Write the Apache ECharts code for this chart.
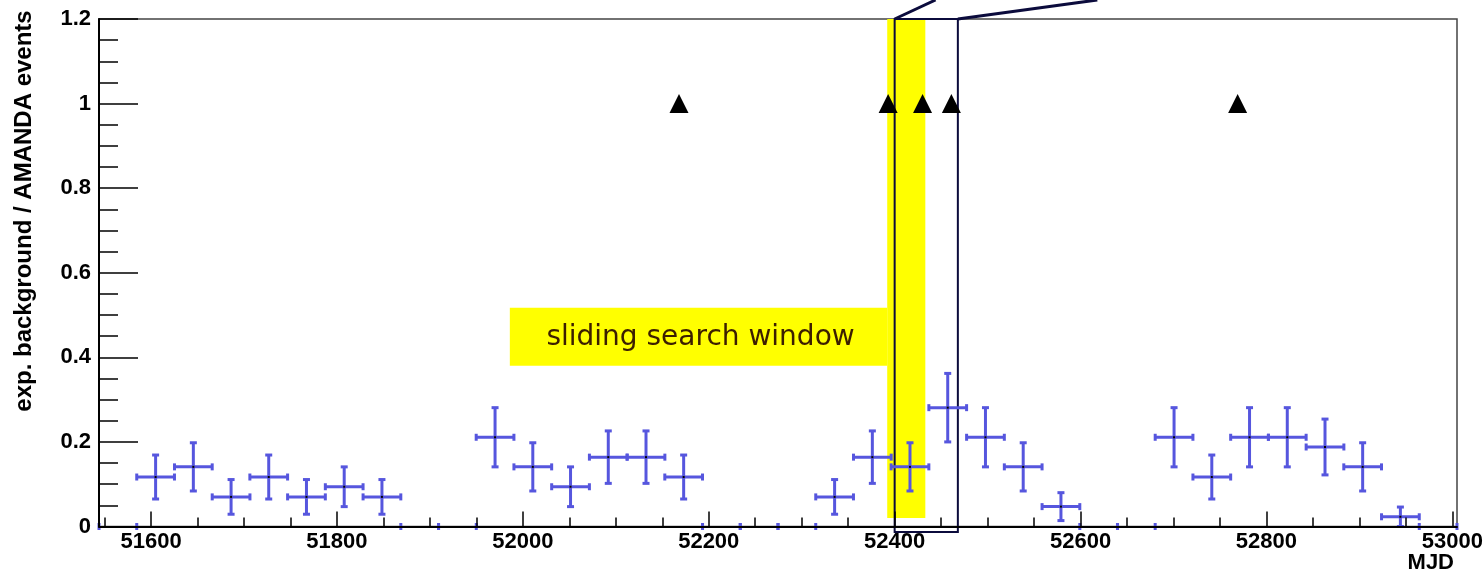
<!DOCTYPE html>
<html><head><meta charset="utf-8">
<script src="https://cdn.jsdelivr.net/npm/echarts@6/dist/echarts.min.js"></script>
<style>html,body{margin:0;padding:0;background:#fff}#c{width:1484px;height:573px}</style>
</head><body><div id="c"></div>
<script>
// ---- data ----
const binCenters = [51564.3, 51604.9, 51645.5, 51686.1, 51726.6, 51767.2, 51807.8, 51848.4, 51889.0, 51929.6,
  51970.1, 52010.7, 52051.3, 52091.9, 52132.5, 52173.0, 52213.6, 52254.2, 52294.8, 52335.4,
  52376.0, 52416.5, 52457.1, 52497.7, 52538.3, 52578.9, 52619.5, 52660.0, 52700.6, 52741.2,
  52781.8, 52822.4, 52863.0, 52903.5, 52944.1, 52984.7];
const binHalfWidth = 20.29;
const expBackground = [0, 0.117, 0.141, 0.070, 0.117, 0.070, 0.094, 0.070, 0, 0,
  0.211, 0.141, 0.094, 0.164, 0.164, 0.117, 0, 0, 0, 0.070,
  0.164, 0.141, 0.281, 0.211, 0.141, 0.047, 0, 0, 0.211, 0.117,
  0.211, 0.211, 0.188, 0.141, 0.023, 0];
const expError = [0, 0.052, 0.057, 0.041, 0.052, 0.041, 0.047, 0.041, 0, 0,
  0.070, 0.057, 0.047, 0.062, 0.062, 0.052, 0, 0, 0, 0.041,
  0.062, 0.057, 0.081, 0.070, 0.057, 0.033, 0, 0, 0.070, 0.052,
  0.070, 0.070, 0.066, 0.057, 0.023, 0];
const amandaEventMJD = [52168, 52393, 52430, 52461, 52769];
const amandaEventLevel = [1, 1, 1, 1, 1];
const xMajorTicks = [51600, 51800, 52000, 52200, 52400, 52600, 52800, 53000];
const xMinorTicks = [51550, 51600, 51650, 51700, 51750, 51800, 51850, 51900, 51950, 52000,
  52050, 52100, 52150, 52200, 52250, 52300, 52350, 52400, 52450, 52500,
  52550, 52600, 52650, 52700, 52750, 52800, 52850, 52900, 52950, 53000];
const xRange = [51544, 53005];
const yRange = [0, 1.2];
const bandMJD = [52392, 52433];
const bandLevel = [0.02, 1.2];
const labelMJD = [51986, 52392];
const labelLevel = [0.380, 0.517];
const labelText = 'sliding search window';
const windowMJD = [52400, 52468];
const windowLevel = [-0.013, 1.2];
const calloutEnds = [[52444, 1.245], [52618, 1.245]];

// ---- chart ----
const barColor = '#5656de';
const navy = '#0b0b3c';
const chart = echarts.init(document.getElementById('c'), null, {renderer: 'canvas'});
const labelFont = {fontFamily: '"Liberation Sans", Arial, sans-serif', fontWeight: 'bold', fontSize: 22, color: '#000'};

function errorBarItem(params, api) {
  const x = api.value(0), y = api.value(1), e = api.value(2);
  const pL = api.coord([x - binHalfWidth, y]);
  const pR = api.coord([x + binHalfWidth, y]);
  const st = {stroke: barColor, lineWidth: 3};
  const cst = {stroke: barColor, lineWidth: 3};
  const cap = 3.5;
  const ch = [
    {type: 'line', shape: {x1: pL[0], y1: pL[1] - cap, x2: pL[0], y2: pL[1] + cap}, style: cst},
    {type: 'line', shape: {x1: pR[0], y1: pR[1] - cap, x2: pR[0], y2: pR[1] + cap}, style: cst}
  ];
  if (e > 0) {
    const pT = api.coord([x, y + e]);
    const pB = api.coord([x, y - e]);
    const pC = api.coord([x, y]);
    ch.push({type: 'line', shape: {x1: pL[0], y1: pL[1], x2: pR[0], y2: pR[1]}, style: st});
    ch.push({type: 'line', shape: {x1: pT[0], y1: pT[1], x2: pB[0], y2: pB[1]}, style: st});
    ch.push({type: 'line', shape: {x1: pT[0] - cap, y1: pT[1], x2: pT[0] + cap, y2: pT[1]}, style: cst});
    ch.push({type: 'line', shape: {x1: pB[0] - cap, y1: pB[1], x2: pB[0] + cap, y2: pB[1]}, style: cst});
    ch.push({type: 'rect', shape: {x: pC[0] - 1, y: pC[1] - 1, width: 2, height: 2}, style: {fill: '#000'}});
  }
  return {type: 'group', children: ch};
}

function annotationItem(params, api) {
  const b0 = api.coord([bandMJD[0], bandLevel[1]]);
  const b1 = api.coord([bandMJD[1], bandLevel[0]]);
  const l0 = api.coord([labelMJD[0], labelLevel[1]]);
  const l1 = api.coord([labelMJD[1], labelLevel[0]]);
  const w0 = api.coord([windowMJD[0], windowLevel[1]]);
  const w1 = api.coord([windowMJD[1], windowLevel[0]]);
  const c0 = api.coord(calloutEnds[0]);
  const c1 = api.coord(calloutEnds[1]);
  return {type: 'group', children: [
    {type: 'rect', shape: {x: b0[0], y: b0[1], width: b1[0] - b0[0], height: b1[1] - b0[1]}, style: {fill: '#ffff00'}},
    {type: 'rect', shape: {x: l0[0], y: l0[1], width: l1[0] - l0[0], height: l1[1] - l0[1]}, style: {fill: '#ffff00'}},
    {type: 'text', style: {text: labelText, x: (l0[0] + l1[0]) / 2 + 2, y: (l0[1] + l1[1]) / 2 + 1, align: 'center', verticalAlign: 'middle',
      font: '28px "DejaVu Sans", sans-serif', fill: '#3c1e00'}},
    {type: 'rect', shape: {x: w0[0], y: w0[1], width: w1[0] - w0[0], height: w1[1] - w0[1]}, style: {fill: null, stroke: navy, lineWidth: 2}},
    {type: 'line', shape: {x1: w0[0], y1: w0[1], x2: c0[0], y2: c0[1]}, style: {stroke: navy, lineWidth: 3}},
    {type: 'line', shape: {x1: w1[0], y1: w0[1], x2: c1[0], y2: c1[1]}, style: {stroke: navy, lineWidth: 3}}
  ]};
}

const option = {
  backgroundColor: '#fff',
  animation: false,
  grid: {left: 99, right: 27, top: 19, bottom: 46.5, show: true, borderColor: '#444', borderWidth: 1.5, backgroundColor: 'transparent', outerBoundsMode: 'none'},
  xAxis: [
    {type: 'value', min: xRange[0], max: xRange[1], z: 10,
      axisLine: {show: true, lineStyle: {color: '#000', width: 2}},
      axisTick: {show: true, inside: true, length: 15, customValues: xMajorTicks, lineStyle: {color: '#000', width: 1.5}},
      axisLabel: Object.assign({show: true, margin: 4, customValues: xMajorTicks, formatter: v => String(v)}, labelFont),
      splitLine: {show: false}},
    {type: 'value', min: xRange[0], max: xRange[1], z: 10, position: 'bottom',
      axisLine: {show: false},
      axisTick: {show: true, inside: true, length: 9, customValues: xMinorTicks, lineStyle: {color: '#000', width: 1.5}},
      axisLabel: {show: false},
      splitLine: {show: false}}
  ],
  yAxis: {type: 'value', min: yRange[0], max: yRange[1], interval: 0.2, z: 10,
    axisLine: {show: true, lineStyle: {color: '#000', width: 2}},
    axisTick: {show: true, inside: true, length: 39, lineStyle: {color: '#000', width: 1.5}},
    minorTick: {show: true, splitNumber: 4, length: 19, lineStyle: {color: '#000', width: 1.5}},
    axisLabel: Object.assign({margin: 8}, labelFont),
    splitLine: {show: false}, minorSplitLine: {show: false}},
  graphic: [
    {type: 'text', x: 24, y: 211, rotation: Math.PI / 2,
      style: {text: 'exp. background / AMANDA events', align: 'center', verticalAlign: 'middle', font: 'bold 24px "Liberation Sans", Arial, sans-serif', fill: '#000'}},
    {type: 'text', x: 1454, y: 563,
      style: {text: 'MJD', align: 'right', verticalAlign: 'middle', font: 'bold 22px "Liberation Sans", Arial, sans-serif', fill: '#000'}}
  ],
  series: [
    {type: 'custom', name: 'window', z: 1, clip: false, xAxisIndex: 0, data: [[windowMJD[0], windowLevel[1]]], renderItem: annotationItem, silent: true},
    {type: 'custom', name: 'exp. background', z: 2, clip: false, xAxisIndex: 0,
      data: binCenters.map((c, i) => [c, expBackground[i], expError[i]]), renderItem: errorBarItem},
    {type: 'scatter', name: 'AMANDA events', z: 3, xAxisIndex: 0, symbol: 'triangle', symbolSize: 19,
      itemStyle: {color: '#000', opacity: 1}, data: amandaEventMJD.map((m, i) => [m, amandaEventLevel[i]])}
  ]
};
chart.setOption(option);
</script>
</body></html>
